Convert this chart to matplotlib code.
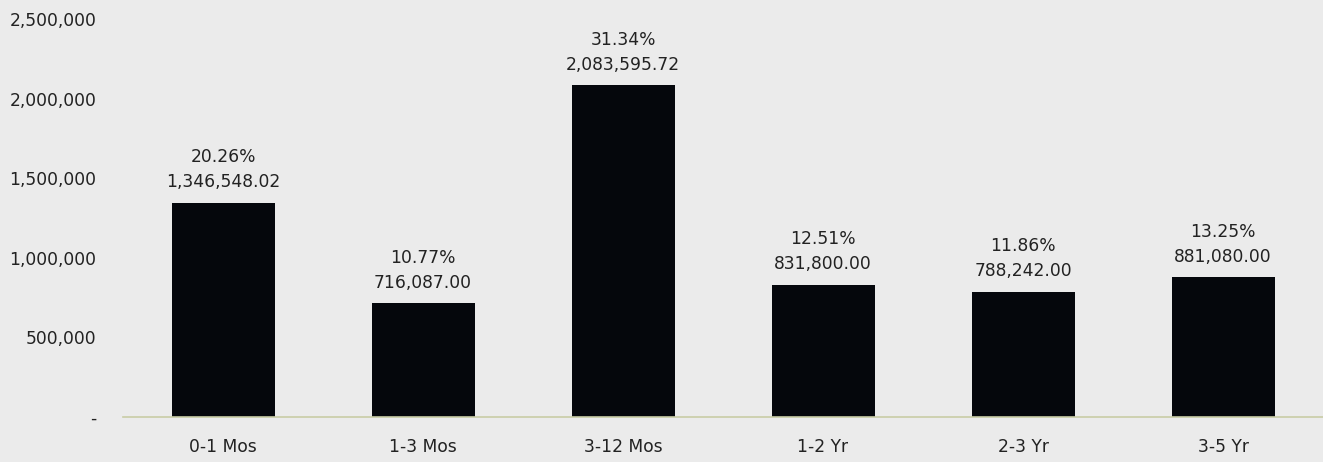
import matplotlib
matplotlib.use('Agg')
import matplotlib.pyplot as plt
from matplotlib.ticker import FuncFormatter

# maturity buckets
categories = ['0-1 Mos', '1-3 Mos', '3-12 Mos', '1-2 Yr', '2-3 Yr', '3-5 Yr']
values = [1346548.02, 716087.00, 2083595.72, 831800.00, 788242.00, 881080.00]
percents = ['20.26%', '10.77%', '31.34%', '12.51%', '11.86%', '13.25%']
yticks = [0, 500000, 1000000, 1500000, 2000000, 2500000]

plt.rcParams['font.family'] = ['DejaVu Sans']
bg = '#ebebeb'
txt = '#222222'

fig = plt.figure(figsize=(13.23, 4.62), dpi=100, facecolor=bg)
ax = fig.add_axes([123 / 1323, 1 - 417 / 462, 1 - 123 / 1323, (417 - 19) / 462])
ax.set_facecolor(bg)

x = range(len(categories))
bars = ax.bar(x, values, width=0.515, color='#05070c')

for b, p, v in zip(bars, percents, values):
    ax.text(b.get_x() + b.get_width() / 2, v + 70000, p + '\n' + format(v, ',.2f'),
            ha='center', va='bottom', fontsize=12.3, color=txt, linespacing=1.5)

ax.set_xlim(-0.5, 5.5)
ax.set_ylim(0, 2500000)
ax.set_xticks(list(x))
ax.set_xticklabels(categories)
ax.set_yticks(yticks)
ax.yaxis.set_major_formatter(FuncFormatter(lambda v, pos: '-' if v == 0 else format(int(v), ',')))
ax.tick_params(axis='x', length=0, pad=15, labelsize=12.3, labelcolor=txt)
ax.tick_params(axis='y', length=0, pad=19, labelsize=12.3, labelcolor=txt)

for s in ['top', 'right', 'left']:
    ax.spines[s].set_visible(False)
ax.spines['bottom'].set_color('#c9cca6')
ax.spines['bottom'].set_linewidth(1.2)

fig.savefig('out.png', dpi=100, facecolor=bg)
